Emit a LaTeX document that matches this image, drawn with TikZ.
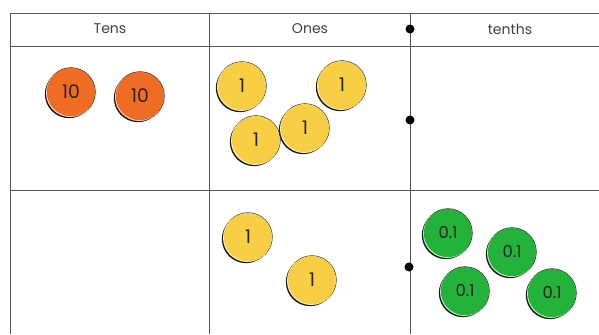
\documentclass[tikz,border=0pt]{standalone}
\usepackage{fontspec}
\setmainfont{Poppins}
\definecolor{tenorange}{HTML}{EE6C24}
\definecolor{oneyellow}{HTML}{F8CE45}
\definecolor{tenthgreen}{HTML}{23B23A}
\definecolor{gridgray}{HTML}{555555}

\tikzset{
  coin/.style={circle,minimum size=1.45cm,inner sep=0pt,
    fill=#1,text=black!85,
    font=\fontsize{16}{18}\selectfont,
    preaction={fill=black!90,transform canvas={shift={(-.06cm,-.06cm)}}},
    preaction={draw=black!90,line width=.8pt},
    preaction={fill=#1!25!white,transform canvas={shift={(-.025cm,-.025cm)}}}},
  head/.style={text=black!75,font=\fontsize{12}{14}\selectfont},
  dot/.style={circle,fill=black,minimum size=.27cm,inner sep=0pt}
}

\begin{document}
\begin{tikzpicture}[x=.03cm,y=-.03cm]
  \useasboundingbox (0,0) rectangle (599,334);
  % grid
  \draw[gridgray,line width=.8pt] (10,334) -- (10,13) -- (599,13);
  \draw[gridgray,line width=.8pt] (10,46) -- (599,46);
  \draw[gridgray,line width=.8pt] (10,190) -- (599,190);
  \draw[gridgray,line width=.8pt] (209,13) -- (209,334);
  \draw[gridgray,line width=.8pt] (410,13) -- (410,334);
  % headings
  \node[head] (tens) at (110,29) {Tens};
  \node[head] (ones) at (310,29) {Ones};
  \node[head] (tenths) at (510,29) {tenths};
  % decimal point
  \node[dot] (pointA) at (410,29) {};
  \node[dot] (pointB) at (410,120) {};
  \node[dot] (pointC) at (409,267) {};
  % top row
  \node[coin=tenorange] (tenA) at (71,92) {10};
  \node[coin=tenorange] (tenB) at (140,96) {10};
  \node[coin=oneyellow] (oneA) at (242,86) {1};
  \node[coin=oneyellow] (oneB) at (342,85) {1};
  \node[coin=oneyellow] (oneC) at (256,140) {1};
  \node[coin=oneyellow] (oneD) at (305,128) {1};
  % bottom row
  \node[coin=oneyellow] (oneE) at (248,237) {1};
  \node[coin=oneyellow] (oneF) at (312,280) {1};
  \node[coin=tenthgreen,font=\fontsize{14}{16}\selectfont] (tenthA) at (448,233) {0.1};
  \node[coin=tenthgreen,font=\fontsize{14}{16}\selectfont] (tenthB) at (512,252) {0.1};
  \node[coin=tenthgreen,font=\fontsize{14}{16}\selectfont] (tenthC) at (465,291) {0.1};
  \node[coin=tenthgreen,font=\fontsize{14}{16}\selectfont] (tenthD) at (552,293) {0.1};
\end{tikzpicture}
\end{document}
